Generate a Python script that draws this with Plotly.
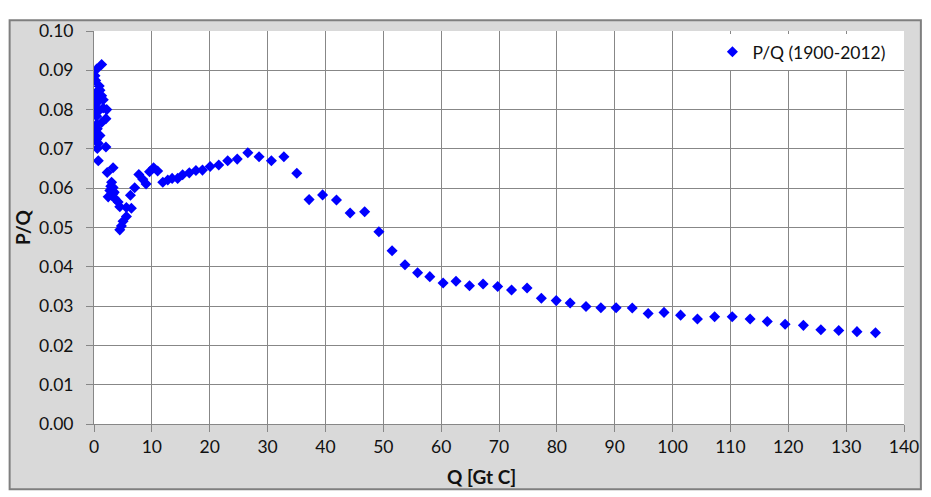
import plotly.graph_objects as go

# Cumulative Q [Gt C] and P/Q ratio (1900-2012)
q_values = [
    0.17, 0.29, 0.46, 1.32, 1.03, 0.46, 1.32, 0.34, 0.74, 1.60, 0.17, 1.60, 2.20, 0.74,
    0.46, 2.06, 1.32, 0.46, 0.57, 0.17, 1.03, 0.46, 0.74, 2.06, 0.57, 0.74, 0.30, 0.90,
    0.10, 0.60,
    2.28, 3.30, 3.04, 3.30, 2.74, 2.45, 3.30, 3.60, 4.17, 4.46, 5.60, 6.46, 5.60, 5.02,
    4.74, 4.46, 6.30, 7.03, 7.75, 8.43, 9.00, 9.60, 10.30, 11.00, 11.89, 2.90, 3.50, 3.00,
    12.75, 13.50, 14.46, 15.32, 16.47, 17.62, 18.75, 20.07, 21.56, 23.11, 24.76, 26.59,
    28.53, 30.66, 32.82, 35.05, 37.18, 39.51, 41.91, 44.27, 46.78, 49.24, 51.52, 53.75,
    55.93, 58.04, 60.34, 62.57, 64.90, 67.25, 69.77, 72.17, 74.85, 77.32, 79.89, 82.30,
    85.04, 87.61, 90.24, 93.03, 95.78, 98.52, 101.39, 104.30, 107.27, 110.31, 113.40,
    116.37, 119.45, 122.61, 125.63, 128.72, 131.87, 135.07,
]
pq_values = [
    0.0886, 0.0874, 0.0903, 0.0915, 0.0849, 0.0845, 0.0835, 0.0831, 0.0821, 0.0825, 0.0812, 0.0804, 0.0800, 0.0796,
    0.0783, 0.0777, 0.0767, 0.0763, 0.0751, 0.0738, 0.0734, 0.0724, 0.0714, 0.0705, 0.0701, 0.0670, 0.0805, 0.0860,
    0.0790, 0.0730,
    0.0640, 0.0652, 0.0615, 0.0602, 0.0594, 0.0578, 0.0586, 0.0574, 0.0565, 0.0553, 0.0551, 0.0549, 0.0528, 0.0516,
    0.0504, 0.0494, 0.0582, 0.0601, 0.0635, 0.0623, 0.0611, 0.0642, 0.0652, 0.0644, 0.0615, 0.0605, 0.0590, 0.0582,
    0.0621, 0.0625, 0.0625, 0.0634, 0.0639, 0.0645, 0.0646, 0.0655, 0.0659, 0.0670, 0.0674, 0.0690,
    0.0680, 0.0670, 0.0680, 0.0638, 0.0571, 0.0583, 0.0570, 0.0537, 0.0540, 0.0489, 0.0441, 0.0405,
    0.0385, 0.0375, 0.0359, 0.0363, 0.0352, 0.0356, 0.0350, 0.0341, 0.0346, 0.0320, 0.0314, 0.0308,
    0.0299, 0.0296, 0.0296, 0.0295, 0.0281, 0.0284, 0.0277, 0.0267, 0.0273, 0.0273, 0.0267,
    0.0261, 0.0254, 0.0251, 0.0240, 0.0238, 0.0235, 0.0232,
]

series_name = "P/Q (1900-2012)"
x_title = "Q [Gt C]"
y_title = "P/Q"
x_ticks = list(range(0, 141, 10))
y_ticks = [i / 100 for i in range(0, 11)]

# page has an 8px body margin, so the figure is sized to fill the rest of the window
OFF = 8
W, H = 931 - OFF, 497 - OFF
L, T = 94 - OFF, 20 - OFF
pw, ph = 816, 404
R, B = W - L - pw, H - T - ph

def px_x(p):  # page x pixel -> paper coordinate
    return (p - OFF - L) / pw

def px_y(p):  # page y pixel -> paper coordinate
    return (OFF + T + ph - p) / ph

FONT = "Lato, 'Open Sans', sans-serif"
GRID = "#878787"
TXT = "#111111"

fig = go.Figure()
fig.add_trace(go.Scatter(
    x=q_values, y=pq_values, mode="markers", name=series_name,
    marker=dict(symbol="diamond", size=8.5, color="#0000FF", line=dict(width=0)),
))

fig.update_layout(
    width=W, height=H,
    margin=dict(l=L, r=R, t=T, b=B, pad=0),
    paper_bgcolor="white", plot_bgcolor="white",
    font=dict(family=FONT, size=17.5, color=TXT),
    showlegend=True,
    legend=dict(
        x=px_x(717), y=px_y(23), xanchor="left", yanchor="top",
        bgcolor="white", borderwidth=0, font=dict(size=17.5, color=TXT),
    ),
    xaxis=dict(
        range=[0, 140], tickvals=x_ticks, ticktext=[str(v) for v in x_ticks],
        showgrid=True, gridcolor=GRID, gridwidth=1,
        showline=True, linecolor=GRID, linewidth=1,
        ticks="outside", ticklen=7, tickcolor=GRID,
        zeroline=False, tickfont=dict(size=17.5, color=TXT),
    ),
    yaxis=dict(
        range=[0, 0.1], tickvals=y_ticks, tickformat=".2f",
        showgrid=True, gridcolor=GRID, gridwidth=1,
        showline=True, linecolor=GRID, linewidth=1,
        ticks="outside", ticklen=7, tickcolor=GRID,
        zeroline=False, tickfont=dict(size=17.5, color=TXT),
        ticklabelstandoff=9,
    ),
    shapes=[
        dict(type="rect", xref="paper", yref="paper", layer="below",
             x0=px_x(OFF + 1), x1=px_x(927), y0=px_y(491), y1=px_y(OFF + 1),
             fillcolor="#d9d9d9", line=dict(color="#7f7f7f", width=2)),
        dict(type="rect", xref="paper", yref="paper", layer="below",
             x0=0, x1=1, y0=0, y1=1, fillcolor="white", line=dict(width=0)),
    ],
    annotations=[
        dict(text=f"<b>{x_title}</b>", xref="paper", yref="paper",
             x=px_x(484), y=px_y(478), xanchor="center", yanchor="middle",
             showarrow=False, font=dict(size=19, color=TXT)),
        dict(text=f"<b>{y_title}</b>", xref="paper", yref="paper",
             x=px_x(22), y=px_y(222), xanchor="center", yanchor="middle",
             textangle=-90, showarrow=False, font=dict(size=19, color=TXT)),
    ],
)

fig.write_html("out.html")
